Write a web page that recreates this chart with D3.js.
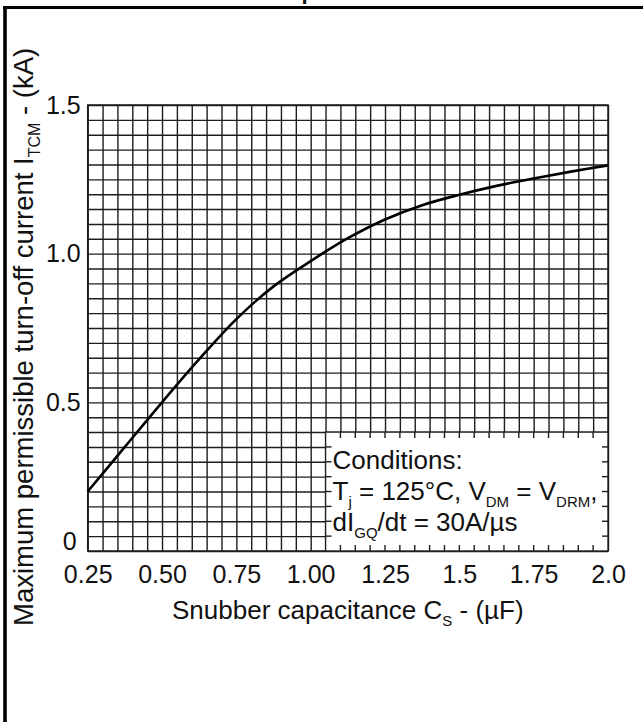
<!DOCTYPE html>
<html>
<head>
<meta charset="utf-8">
<script src="https://cdn.jsdelivr.net/npm/d3@7"></script>
<style>
  body { margin: 0; background: #fff; }
  svg text { font-family: "Liberation Sans", Arial, Helvetica, sans-serif; fill: #111; }
</style>
</head>
<body>
<div id="chart"></div>
<script>
// curve: snubber capacitance (uF) -> max turn-off current (kA)
const capacitance = [0.25, 0.375, 0.5, 0.625, 0.75, 0.875, 1.0, 1.125, 1.25, 1.375, 1.5, 1.625, 1.75, 1.875, 2.0];
const turnOffCurrent = [0.20, 0.35, 0.50, 0.645, 0.78, 0.89, 0.975, 1.052, 1.115, 1.163, 1.198, 1.228, 1.253, 1.276, 1.297];

const xTickValues = [0.25, 0.5, 0.75, 1.0, 1.25, 1.5, 1.75, 2.0];
const xTickLabels = ['0.25', '0.50', '0.75', '1.00', '1.25', '1.5', '1.75', '2.0'];
const yTickValues = [0, 0.5, 1.0, 1.5];
const yTickLabels = ['0', '0.5', '1.0', '1.5'];

const conditionLines = [
    [['Conditions:', '']],
    [['T', ''], ['j', 'sub'], [' = 125°C, V', ''], ['DM', 'sub'], [' = V', ''], ['DRM', 'sub'], [',', '']],
    [['dI', ''], ['GQ', 'sub'], ['/dt = 30A/µs', '']]
];

const width = 643;
const height = 722;
const margin = { left: 87.7, right: 35, top: 105, bottom: 171 };
const w = width - margin.left - margin.right;
const h = height - margin.top - margin.bottom;

const svg = d3.select('#chart')
    .append('svg')
    .attr('width', width)
    .attr('height', height);

// frame remains (top and left edge of the scanned page)
svg.append('line').attr('x1', 3).attr('x2', width).attr('y1', 7.5).attr('y2', 7.5)
    .attr('stroke', '#000').attr('stroke-width', 3.2);
svg.append('line').attr('x1', 5).attr('x2', 5).attr('y1', 6).attr('y2', height)
    .attr('stroke', '#000').attr('stroke-width', 3.6);

// title cut off by the frame
svg.append('text')
    .attr('x', 326).attr('y', -1)
    .attr('text-anchor', 'middle')
    .style('font-size', '22px').style('font-weight', 'bold')
    .text('temperature');

const g = svg.append('g').attr('transform', `translate(${margin.left},${margin.top})`);

const x = d3.scaleLinear().domain([0.25, 2.0]).range([0, w]);
const y = d3.scaleLinear().domain([0, 1.5]).range([h, 0]);

const gridX = d3.range(0, 36).map(i => +(0.25 + i * 0.05).toFixed(2));
const gridY = d3.range(0, 31).map(i => +(i * 0.05).toFixed(2));

const gridColor = '#1e1e1e';

g.append('g')
    .attr('class', 'grid-x')
    .attr('transform', `translate(0,${h})`)
    .call(d3.axisBottom(x).tickValues(gridX).tickSize(-h).tickFormat(''))
    .call(s => s.select('.domain').remove())
    .selectAll('line').attr('stroke', gridColor).attr('stroke-width', 1.4);

g.append('g')
    .attr('class', 'grid-y')
    .call(d3.axisLeft(y).tickValues(gridY).tickSize(-w).tickFormat(''))
    .call(s => s.select('.domain').remove())
    .selectAll('line').attr('stroke', gridColor).attr('stroke-width', 1.4);

g.append('rect')
    .attr('width', w).attr('height', h)
    .attr('fill', 'none').attr('stroke', gridColor).attr('stroke-width', 1.5);

// conditions box, covering part of the grid
const box = { x0: 1.05, x1: 2.0, y0: 0, y1: 0.4 };
g.append('rect')
    .attr('x', x(box.x0)).attr('y', y(box.y1))
    .attr('width', x(box.x1) - x(box.x0)).attr('height', y(box.y0) - y(box.y1))
    .attr('fill', '#fff').attr('stroke', gridColor).attr('stroke-width', 1.4);

const stub = 6;
const stubs = g.append('g').attr('stroke', gridColor).attr('stroke-width', 1.4);
gridX.filter(v => v > box.x0 + 0.001 && v < box.x1 - 0.001).forEach(v => {
    stubs.append('line').attr('x1', x(v)).attr('x2', x(v)).attr('y1', y(box.y1)).attr('y2', y(box.y1) + stub);
    stubs.append('line').attr('x1', x(v)).attr('x2', x(v)).attr('y1', y(box.y0)).attr('y2', y(box.y0) - stub);
});
gridY.filter(v => v > box.y0 + 0.001 && v < box.y1 - 0.001).forEach(v => {
    stubs.append('line').attr('x1', x(box.x0)).attr('x2', x(box.x0) + stub).attr('y1', y(v)).attr('y2', y(v));
    stubs.append('line').attr('x1', x(box.x1)).attr('x2', x(box.x1) - stub).attr('y1', y(v)).attr('y2', y(v));
});

const condText = g.append('text')
    .attr('x', x(box.x0) + 7)
    .attr('y', 0)
    .style('font-size', '26px');
conditionLines.forEach((line, li) => {
    line.forEach(([t, kind], pi) => {
        const ts = condText.append('tspan').text(t);
        if (pi === 0) ts.attr('x', x(box.x0) + 7).attr('y', y(box.y1) + 37 + li * 31);
        if (kind === 'sub') ts.style('font-size', '15px').attr('dy', 7);
        else if (pi > 0 && line[pi - 1][1] === 'sub') ts.attr('dy', -7);
    });
});

// the curve
const pts = capacitance.map((c, i) => [c, turnOffCurrent[i]]);
g.append('path')
    .datum(pts)
    .attr('fill', 'none')
    .attr('stroke', '#000')
    .attr('stroke-width', 2.6)
    .attr('d', d3.line().x(d => x(d[0])).y(d => y(d[1])).curve(d3.curveCatmullRom.alpha(0.5)));

// tick labels
g.append('g')
    .attr('transform', `translate(0,${h})`)
    .call(d3.axisBottom(x).tickValues(xTickValues).tickFormat((d, i) => xTickLabels[i]).tickSize(0).tickPadding(14))
    .call(s => s.select('.domain').remove())
    .selectAll('text').style('font-size', '25px').attr('fill', '#111');

g.append('g')
    .call(d3.axisLeft(y).tickValues(yTickValues).tickFormat((d, i) => yTickLabels[i]).tickSize(0).tickPadding(7))
    .call(s => s.select('.domain').remove())
    .selectAll('text').style('font-size', '25px').attr('fill', '#111')
    .attr('dy', d => d === 0 ? '-0.05em' : '0.32em')
    .attr('x', d => d === 0 ? -11 : -7);

// axis titles
const xt = svg.append('text')
    .attr('x', margin.left + w / 2).attr('y', 619)
    .attr('text-anchor', 'middle')
    .style('font-size', '26px');
xt.append('tspan').text('Snubber capacitance C');
xt.append('tspan').text('S').style('font-size', '15px').attr('dy', 7);
xt.append('tspan').text(' - (µF)').attr('dy', -7);

const yt = svg.append('text')
    .attr('transform', 'translate(33,626) rotate(-90)')
    .attr('text-anchor', 'start')
    .style('font-size', '27.5px');
yt.append('tspan').text('Maximum permissible turn-off current I');
yt.append('tspan').text('TCM').style('font-size', '16px').attr('dy', 7);
yt.append('tspan').text(' - (kA)').attr('dy', -7);
</script>
</body>
</html>
